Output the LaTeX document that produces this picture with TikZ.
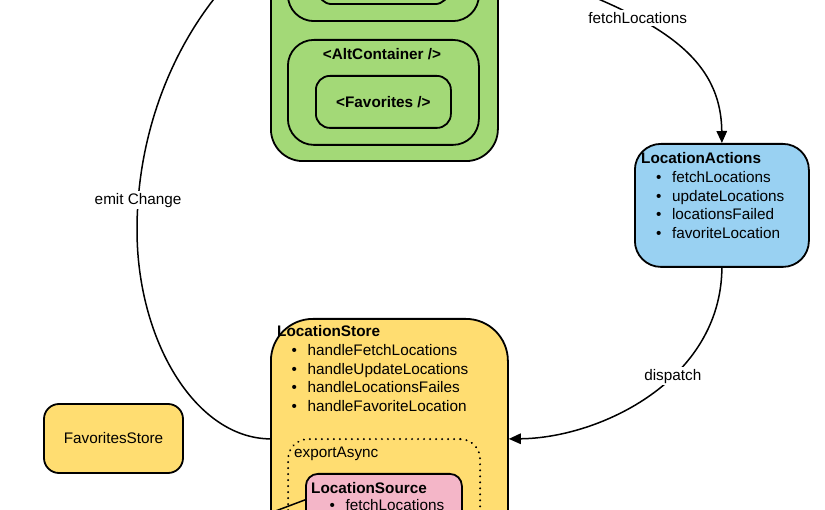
\documentclass[tikz,border=0pt]{standalone}
\usepackage{fontspec}
\setmainfont{Liberation Sans}
\usetikzlibrary{calc, arrows.meta, positioning}

\definecolor{viewgreen}{HTML}{A3D977}
\definecolor{actionblue}{HTML}{99D1F2}
\definecolor{storeyellow}{HTML}{FFDD71}
\definecolor{sourcepink}{HTML}{F4B6C8}

\tikzset{
  every node/.style={font=\fontsize{15.3}{18.7}\selectfont},
  box/.style={draw, line width=1.8pt, rounded corners=#1, inner sep=0pt},
  txt/.style={inner sep=0pt, anchor=base west},
  lbl/.style={fill=white, inner sep=2pt},
  flow/.style={line width=1.5pt},
  arr/.style={flow, -{Triangle[length=12pt,width=10.5pt]}}
}

\begin{document}
\begin{tikzpicture}[x=1pt, y=-1pt]

\useasboundingbox (0,0) rectangle (825,510);
\clip (0,0) rectangle (825,510);

% Draw the view components
\node[box=32pt, fill=viewgreen, minimum width=227, minimum height=300, anchor=south west] (app) at (270,162) {};
\node[box=26pt, minimum width=191, minimum height=110, anchor=south west] (container) at (287,22) {};
\node[box=14pt, minimum width=131, minimum height=50, anchor=south west] (inner) at (317,5) {};
\node[box=26pt, minimum width=191, minimum height=105, anchor=north west] (alt) at (287,39) {};
\node[inner sep=0pt, anchor=base, font=\fontsize{15.3}{18.7}\selectfont\bfseries] (altlabel) at (382,59.5) {<AltContainer />};
\node[box=14pt, minimum width=135, minimum height=52, anchor=north west, font=\fontsize{15.3}{18.7}\selectfont\bfseries] (favorites) at (315,75) {<Favorites />};

% Draw the actions
\node[box=26pt, fill=actionblue, minimum width=174, minimum height=123, anchor=north west] (actions) at (634,143) {};
\node[txt, font=\fontsize{15.3}{18.7}\selectfont\bfseries] (actionstitle) at (641,163.5) {LocationActions};
\foreach \t [count=\i] in {fetchLocations, updateLocations, locationsFailed, favoriteLocation}
  \node[txt] (action\i) at (656,163.8+\i*18.7) {\textbullet\hspace{10.5pt}\t};

% Draw the stores
\node[box=42pt, fill=storeyellow, minimum width=237, minimum height=240, anchor=north west] (store) at (270,318) {};
\node[txt, font=\fontsize{15.3}{18.7}\selectfont\bfseries] (storetitle) at (277,336.5) {LocationStore};
\foreach \t [count=\i] in {handleFetchLocations, handleUpdateLocations, handleLocationsFailes, handleFavoriteLocation}
  \node[txt] (handler\i) at (291.5,336.8+\i*18.7) {\textbullet\hspace{10.5pt}\t};
\node[box=20pt, line width=2.2pt, dash pattern=on 0.01pt off 6pt, line cap=round, minimum width=192, minimum height=120, anchor=north west] (async) at (287,438) {};
\node[txt] (asynclabel) at (294,458) {exportAsync};
\node[box=12pt, fill=sourcepink, minimum width=156, minimum height=52, anchor=north west] (source) at (305,473) {};
\node[txt, font=\fontsize{15.3}{18.7}\selectfont\bfseries] (sourcetitle) at (311,493.5) {LocationSource};
\node[txt] (source1) at (329.5,510.5) {\textbullet\hspace{10.5pt}fetchLocations};

\node[box=15pt, fill=storeyellow, minimum width=139, minimum height=69] (favstore) at (113.5,438.5) {FavoritesStore};

% Free ends of the connectors
\coordinate (viewout) at (550,-20);
\coordinate (viewin) at (230,-20);
\coordinate (sourcein) at (250,520.6);

% Draw the connectors
\draw[arr] (viewout) .. controls (665,22) and (721,60) .. (actions.north)
  node[lbl, pos=0.3] (fetchlbl) {fetchLocations};
\draw[arr] (actions.south) .. controls (721,380) and (600,438) .. (store.east)
  node[lbl, pos=0.4] (dispatchlbl) {dispatch};
\draw[flow] (store.west) .. controls (195,438) and (137,340) .. (137,230)
  .. controls (137,130) and (175,40) .. (viewin)
  node[lbl, pos=0.1] (emitlbl) {emit Change};
\draw[flow] (sourcein) -- (source.west);

\end{tikzpicture}
\end{document}
